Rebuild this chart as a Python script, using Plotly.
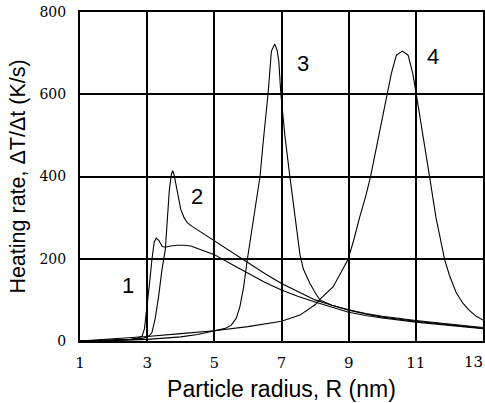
import plotly.graph_objects as go

# Curve 1
x1 = [1.0, 1.5, 2.0, 2.5, 2.7, 2.85, 2.92, 2.99, 3.07, 3.14, 3.21, 3.27, 3.35, 3.45, 3.55, 3.7, 3.9, 4.1, 4.3, 4.6,
      5.0, 5.5, 6.0, 6.5, 7.0, 7.5, 8.0, 8.5, 9.0, 9.5, 10.0, 11.0, 12.0, 13.0]
y1 = [0, 1, 2, 4, 7, 12, 30, 75, 140, 197, 241, 250, 244, 230, 228, 231, 233, 233, 231, 222,
      210, 187, 164, 143, 124, 108, 95, 82, 70, 62, 56, 46, 38, 30]

# Curve 2
x2 = [1.0, 2.0, 2.6, 2.9, 3.05, 3.14, 3.24, 3.34, 3.44, 3.54, 3.6, 3.66, 3.72, 3.76, 3.8, 3.85, 3.92, 4.0, 4.1, 4.2,
      4.35, 4.5, 4.75, 5.0, 5.5, 6.0, 6.5, 7.0, 7.5, 8.0, 8.5, 9.0, 9.5, 10.0, 11.0, 12.0, 13.0]
y2 = [0, 2, 4, 7, 12, 20, 55, 108, 173, 222, 300, 367, 405, 414, 405, 385, 350, 320, 300, 287,
      278, 270, 257, 244, 216, 190, 164, 140, 119, 100, 87, 76, 67, 60, 50, 41, 33]

# Curve 3
x3 = [1.0, 2.0, 3.0, 3.5, 4.0, 4.5, 5.0, 5.3, 5.5, 5.65, 5.76, 5.87, 5.98, 6.1, 6.2, 6.36, 6.46, 6.6, 6.7, 6.8,
      6.87, 6.92, 6.98, 7.1, 7.25, 7.4, 7.55, 7.65, 7.75, 7.84, 8.0, 8.14, 8.5, 9.0, 9.5, 10.0, 11.0, 12.0, 13.0]
y3 = [0, 1, 4, 7, 10, 16, 24, 30, 38, 55, 83, 130, 197, 260, 320, 400, 488, 602, 705, 722,
      707, 680, 602, 500, 399, 302, 210, 175, 155, 141, 118, 100, 87, 75, 66, 58, 48, 39, 31]

# Curve 4
x4 = [1.0, 2.0, 3.0, 4.0, 5.0, 6.0, 7.0, 7.55, 8.0, 8.19, 8.54, 8.98, 9.15, 9.33, 9.5, 9.65, 9.9, 10.17, 10.27,
      10.42, 10.6, 10.77, 10.91, 11.01, 11.2, 11.41, 11.6, 11.86, 12.0, 12.2, 12.4, 12.6, 12.8, 13.0]
y4 = [0, 5, 11, 18, 25, 35, 48, 63, 88, 105, 132, 198, 245, 302, 350, 399, 500, 602, 650,
      695, 705, 695, 650, 602, 500, 399, 300, 197, 160, 118, 92, 74, 60, 51]

curve_labels = ["1", "2", "3", "4"]
label_x = [2.43, 4.48, 7.63, 11.5]
label_y = [136, 351, 675, 693]

x_ticks = [1, 3, 5, 7, 9, 11, 13]
x_ticktext = ["1", "3", "5", "7", "9", "11", ""]
last_x_label = "13"
y_ticks = [0, 200, 400, 600, 800]
y_ticktext = ["0", "200", "400", "600", "800"]

tick_family = "DejaVu Serif"

fig = go.Figure()
for xs, ys in [(x1, y1), (x2, y2), (x3, y3), (x4, y4)]:
    fig.add_trace(go.Scatter(x=xs, y=ys, mode="lines",
                             line=dict(color="black", width=1.1), showlegend=False))

for t, lx, ly in zip(curve_labels, label_x, label_y):
    fig.add_annotation(x=lx, y=ly, text=t, showarrow=False,
                       font=dict(family="Arial, Liberation Sans", size=22, color="black"))

# last x tick label kept inside the page (it sits at the right edge)
fig.add_annotation(x=x_ticks[-1], xref="x", y=0, yref="paper", text=last_x_label,
                   showarrow=False, xanchor="right", yanchor="middle", yshift=-21,
                   xshift=2, font=dict(family=tick_family, size=15, color="black"))

fig.update_layout(
    width=485, height=403,
    margin=dict(l=80, r=2, t=12, b=62),
    paper_bgcolor="white", plot_bgcolor="white",
    showlegend=False,
)
fig.update_xaxes(
    range=[1, 13], tickvals=x_ticks, ticktext=x_ticktext,
    showgrid=True, gridcolor="black", gridwidth=2,
    showline=True, linecolor="black", linewidth=2, mirror=True,
    zeroline=False, ticks="", ticklabelstandoff=7,
    automargin=False,
    tickfont=dict(family=tick_family, size=15, color="black"),
    title=dict(text="Particle radius, R (nm)", standoff=10,
               font=dict(family="Arial, Liberation Sans", size=23, color="black")),
)
fig.update_yaxes(
    range=[0, 800], tickvals=y_ticks, ticktext=y_ticktext,
    showgrid=True, gridcolor="black", gridwidth=2,
    showline=True, linecolor="black", linewidth=2, mirror=True,
    zeroline=False, ticks="", ticklabelstandoff=9, automargin=False,
    tickfont=dict(family=tick_family, size=14, color="black"),
    title=dict(text="Heating rate, ΔT/Δt (K/s)", standoff=8,
               font=dict(family="Arial, Liberation Sans", size=21.5, color="black")),
)

fig.write_html("out.html")
